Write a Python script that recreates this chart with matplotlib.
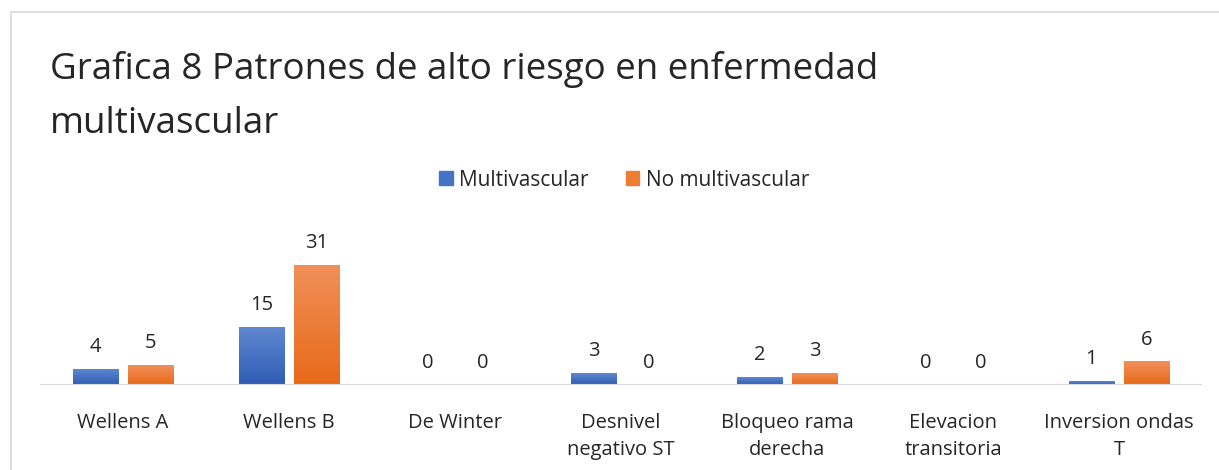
import matplotlib.pyplot as plt
import numpy as np
from matplotlib.colors import LinearSegmentedColormap
from matplotlib.patches import Rectangle

categories = ["Wellens A", "Wellens B", "De Winter", "Desnivel\nnegativo ST",
              "Bloqueo rama\nderecha", "Elevacion\ntransitoria", "Inversion ondas\nT"]
multivascular = [4, 15, 0, 3, 2, 0, 1]
no_multivascular = [5, 31, 0, 0, 3, 0, 6]
series_names = ["Multivascular", "No multivascular"]

plt.rcParams["font.family"] = ["Open Sans", "DejaVu Sans"]

fig = plt.figure(figsize=(12.19, 4.70), dpi=100)
W, H = 1219, 470

# outer chart frame
fig.patches.append(Rectangle((11 / W, -0.1), 1.2, 1 - 12 / H + 0.1, transform=fig.transFigure,
                             fill=False, edgecolor="#d9d9d9", linewidth=1.2))

ax = fig.add_axes([40 / W, 1 - 385 / H, 1162 / W, 185 / H])
x = np.arange(len(categories))
width = 0.275
offset = 0.166

def gradient_bars(xs, vals, top, bottom):
    cmap = LinearSegmentedColormap.from_list("g", [bottom, top])
    grad = np.linspace(0, 1, 100).reshape(-1, 1)
    for xi, v in zip(xs, vals):
        if v <= 0:
            continue
        ax.imshow(grad, cmap=cmap, origin="lower", aspect="auto",
                  extent=[xi - width / 2, xi + width / 2, 0, v], zorder=2)

gradient_bars(x - offset, multivascular, "#5f86d0", "#2f5db3")
gradient_bars(x + offset, no_multivascular, "#f18f5a", "#e76a18")

for xs, vals in ((x - offset, multivascular), (x + offset, no_multivascular)):
    for xi, v in zip(xs, vals):
        ax.text(xi, v + 3.2, str(v), ha="center", va="bottom", fontsize=14.5, color="#262626")

ax.set_xlim(-0.5, len(categories) - 0.5)
ax.set_ylim(0, 48)
ax.axhline(0, color="#d9d9d9", linewidth=1.5, zorder=3)
for s in ax.spines.values():
    s.set_visible(False)
ax.set_yticks([])
ax.set_xticks(x)
ax.set_xticklabels(categories, fontsize=14.5, color="#262626", linespacing=1.45)
ax.tick_params(axis="x", length=0, pad=20)

# legend
handles = [Rectangle((0, 0), 1, 1, color="#4472c4"), Rectangle((0, 0), 1, 1, color="#ed7d31")]
fig.legend(handles, series_names, loc="center", bbox_to_anchor=(624 / W, 1 - 180 / H),
           ncol=2, frameon=False, fontsize=15, handlelength=0.65, handleheight=0.65,
           handletextpad=0.3, columnspacing=1.8, labelcolor="#262626")

fig.text(50 / W, 1 - 70 / H, "Grafica 8 Patrones de alto riesgo en enfermedad",
         fontsize=26.5, va="center", ha="left", color="#262626")
fig.text(50 / W, 1 - 124 / H, "multivascular",
         fontsize=26.5, va="center", ha="left", color="#262626")

fig.savefig("out.png", dpi=100)
